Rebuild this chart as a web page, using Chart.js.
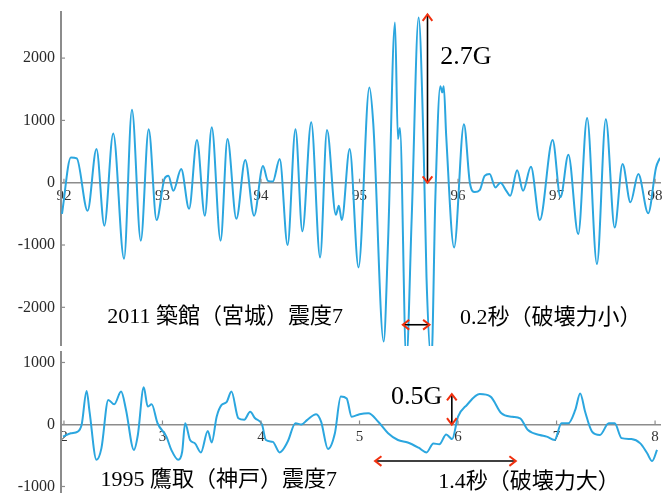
<!DOCTYPE html>
<html lang="ja">
<head>
  <meta charset="UTF-8">
  <title>加速度波形</title>
  <script src="https://cdn.jsdelivr.net/npm/chart.js"></script>
  <style>
    body {
      margin: 0;
      background: #fff;
    }
    #wrap {
      position: relative;
      width: 669px;
      height: 493px;
      overflow: hidden;
    }
    #wrap div {
      position: absolute;
      left: 0;
      width: 669px;
    }
  </style>
</head>
<body>
  <div id="wrap">
    <div style="top:0;height:346px"><canvas id="top"></canvas></div>
    <div style="top:346px;height:147px"><canvas id="bottom"></canvas></div>
  </div>

  <script>
    // 2011 築館 (time in s, acceleration in gal)
    const topTime = [91.98, 92.07, 92.13, 92.24, 92.33, 92.41, 92.50, 92.61, 92.69, 92.78,
      92.86, 92.94, 93.02, 93.06, 93.11, 93.19, 93.27, 93.35, 93.43, 93.50,
      93.59, 93.66, 93.75, 93.84, 93.93, 94.02, 94.07, 94.12, 94.19, 94.27,
      94.35, 94.42, 94.51, 94.60, 94.67, 94.76, 94.79, 94.82, 94.90, 94.99,
      95.10, 95.14, 95.245, 95.29, 95.36, 95.39, 95.41, 95.475, 95.53, 95.60,
      95.65, 95.68, 95.73, 95.77, 95.82, 95.84, 95.855, 95.88, 95.96, 96.06,
      96.12, 96.17, 96.22, 96.27, 96.32, 96.38, 96.43, 96.49, 96.53, 96.60,
      96.66, 96.74, 96.83, 96.96, 97.04, 97.12, 97.22, 97.31, 97.41, 97.50,
      97.59, 97.67, 97.75, 97.83, 97.93, 98.01, 98.05];
    const topAccel = [-500, 406, 390, -450, 540, -690, 790, -1220, 1170, -930,
      860, -600, 60, 110, -130, 220, -420, 685, -530, 890,
      -930, 700, -580, 365, -530, 270, 30, 20, 380, -1000,
      860, -780, 970, -1200, 845, -515, -370, -600, 540, -1360,
      1530, 940, -2550, -930, 2570, 700, 880, -2850, -550, 2650,
      620, -1520, -2850, -235, 1550, 1450, 1550, 750, -1040, 940,
      0, -150, -120, 110, 140, -75, 0, -130, -210, 200,
      -130, 255, -600, 685, -235, 450, -825, 1040, -1305, 1020,
      -720, 300, -315, 140, -490, 245, 400];

    // 1995 鷹取
    const bottomTime = [1.99, 2.07, 2.14, 2.18, 2.23, 2.26, 2.33, 2.38, 2.45, 2.51,
      2.58, 2.63, 2.71, 2.75, 2.81, 2.85, 2.89, 2.95, 3.04, 3.09,
      3.16, 3.20, 3.23, 3.28, 3.33, 3.39, 3.46, 3.50, 3.55, 3.60,
      3.65, 3.70, 3.77, 3.83, 3.89, 3.94, 4.01, 4.05, 4.12, 4.19,
      4.27, 4.35, 4.41, 4.47, 4.56, 4.61, 4.68, 4.75, 4.81, 4.87,
      4.92, 5.00, 5.09, 5.19, 5.29, 5.39, 5.49, 5.60, 5.68, 5.75,
      5.81, 5.88, 5.94, 6.00, 6.09, 6.22, 6.33, 6.44, 6.55, 6.63,
      6.71, 6.83, 6.90, 6.98, 7.05, 7.12, 7.19, 7.24, 7.29, 7.36,
      7.44, 7.53, 7.59, 7.66, 7.76, 7.85, 7.92, 7.97, 8.02];
    const bottomAccel = [-195, -140, -115, 0, 540, 205, -570, -385, 395, 325,
      530, 235, -410, -170, 600, 290, 325, 20, -195, -410,
      -570, -440, 20, -250, -305, -450, -105, -290, 125, 315,
      360, 530, 100, 75, 205, 100, 0, -250, -280, -450,
      -280, 20, 0, 75, 165, 45, -395, -140, 450, 420,
      125, 165, 180, 45, -140, -250, -290, -375, -450, -305,
      -320, -160, -235, 125, 315, 490, 450, 180, 125, 100,
      -90, -170, -195, -250, 20, 20, 235, 500, 205, -115,
      -170, 20, 20, -220, -235, -305, -465, -590, -410];

    const topTicks = [-2000, -1000, 0, 1000, 2000];
    const bottomTicks = [-1000, 0, 1000];

    const G = 980;
    // arrows: [x1, y1, x2, y2] in data units
    const topArrows = [[95.69, 0, 95.69, 2.7 * 1000], [95.44, -2280, 95.71, -2280]];
    const bottomArrows = [[5.937, 0, 5.937, 0.5 * G], [5.158, -590, 6.586, -590]];
    // labels: [text, x, y, size]
    const topNotes = [
      ['2.7G', 95.82, 1910, 26],
      ['2011 築館（宮城）震度7', 92.44, -2250, 22],
      ['0.2秒（破壊力小）', 96.02, -2265, 22]
    ];
    const bottomNotes = [
      ['0.5G', 5.32, 330, 26],
      ['1995 鷹取（神戸）震度7', 2.37, -1000, 22],
      ['1.4秒（破壊力大）', 5.80, -1018, 22]
    ];

    const serif = '"Liberation Serif", "Noto Sans CJK JP", serif';
    const waveColor = '#2ba6df';
    const axisColor = '#8c8c8c';

    function head(ctx, tx, ty, fx, fy) {
      const a = Math.atan2(ty - fy, tx - fx);
      const len = 8, spread = 0.65;
      ctx.beginPath();
      ctx.moveTo(tx - len * Math.cos(a - spread), ty - len * Math.sin(a - spread));
      ctx.lineTo(tx, ty);
      ctx.lineTo(tx - len * Math.cos(a + spread), ty - len * Math.sin(a + spread));
      ctx.stroke();
    }

    // tick marks inside the axes, arrows and captions
    const marks = {
      id: 'marks',
      afterDatasetsDraw(chart, args, opts) {
        const ctx = chart.ctx;
        const xs = chart.scales.x, ys = chart.scales.y;
        const zero = ys.getPixelForValue(0);
        const left = chart.chartArea.left;
        ctx.save();
        ctx.strokeStyle = axisColor;
        ctx.lineWidth = 1.2;
        ys.ticks.forEach(t => {
          const p = ys.getPixelForValue(t.value);
          ctx.beginPath();
          ctx.moveTo(left, p);
          ctx.lineTo(left + 4, p);
          ctx.stroke();
        });
        xs.ticks.forEach(t => {
          const p = xs.getPixelForValue(t.value);
          ctx.beginPath();
          ctx.moveTo(p, zero);
          ctx.lineTo(p, zero - 4);
          ctx.stroke();
        });

        opts.arrows.forEach(a => {
          const x1 = xs.getPixelForValue(a[0]), y1 = ys.getPixelForValue(a[1]);
          const x2 = xs.getPixelForValue(a[2]), y2 = ys.getPixelForValue(a[3]);
          ctx.strokeStyle = '#000';
          ctx.lineWidth = 1.6;
          ctx.beginPath();
          ctx.moveTo(x1, y1);
          ctx.lineTo(x2, y2);
          ctx.stroke();
          ctx.strokeStyle = '#f0300f';
          ctx.lineWidth = 2;
          head(ctx, x1, y1, x2, y2);
          head(ctx, x2, y2, x1, y1);
        });

        ctx.fillStyle = '#000';
        ctx.textBaseline = 'alphabetic';
        ctx.textAlign = 'left';
        opts.notes.forEach(n => {
          ctx.font = n[3] + 'px ' + serif;
          ctx.fillText(n[0], xs.getPixelForValue(n[1]), ys.getPixelForValue(n[2]));
        });
        ctx.restore();
      }
    };

    function makeChart(id, time, accel, xr, yr, yTicks, pad, arrows, notes) {
      new Chart(document.getElementById(id), {
        type: 'line',
        data: {
          datasets: [{
            data: time.map((t, i) => ({ x: t, y: accel[i] })),
            borderColor: waveColor,
            borderWidth: 2,
            pointRadius: 0,
            cubicInterpolationMode: 'monotone',
            fill: false
          }]
        },
        options: {
          responsive: true,
          maintainAspectRatio: false,
          animation: false,
          events: [],
          layout: { padding: { top: pad, right: 9, bottom: 0, left: 0 } },
          plugins: {
            legend: { display: false },
            tooltip: { enabled: false },
            marks: { arrows: arrows, notes: notes }
          },
          scales: {
            x: {
              type: 'linear',
              position: { y: 0 },
              min: xr[0],
              max: xr[1],
              // the axis sits on the zero line, so it takes no room of its own
              afterFit(scale) {
                scale.height = 0;
                scale.paddingLeft = scale.paddingRight = 0;
                scale.paddingTop = scale.paddingBottom = 0;
              },
              grid: { display: false, drawTicks: false },
              border: { display: true, color: axisColor, width: 1.6 },
              ticks: {
                stepSize: 1,
                includeBounds: false,
                padding: 4,
                maxRotation: 0,
                color: '#333',
                font: { family: serif, size: 15 }
              }
            },
            y: {
              min: yr[0],
              max: yr[1],
              afterFit(scale) {
                scale.width = 61;
                scale.paddingTop = scale.paddingBottom = 0;
              },
              afterBuildTicks(scale) { scale.ticks = yTicks.map(v => ({ value: v })); },
              grid: { display: false, drawTicks: false },
              border: { display: true, color: axisColor, width: 2 },
              ticks: {
                padding: 6,
                color: '#2a2a2a',
                font: { family: serif, size: 16 },
                callback: v => String(v)
              }
            }
          }
        },
        plugins: [marks]
      });
    }

    makeChart('top', topTime, topAccel, [91.97, 98.05], [-2621, 2740], topTicks, 12, topArrows, topNotes);
    makeChart('bottom', bottomTime, bottomAccel, [1.97, 8.05], [-1105, 1169], bottomTicks, 6, bottomArrows, bottomNotes);
  </script>
</body>
</html>
